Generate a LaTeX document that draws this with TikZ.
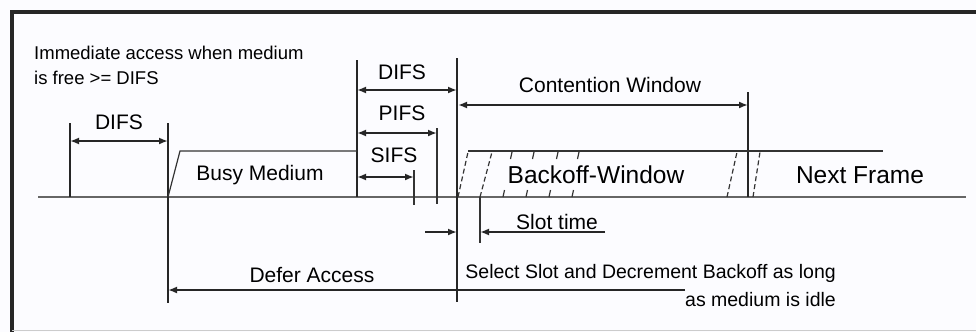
\documentclass[tikz,border=0pt]{standalone}
\usepackage{fontspec}
\setmainfont{Liberation Sans}
\usetikzlibrary{arrows.meta}

\begin{document}
\begin{tikzpicture}[x=1pt, y=-1pt,
        linea/.style={line width=1.8pt, black!85},
        fina/.style={line width=1.2pt, black!80},
        rayas/.style={line width=1.2pt, black!80, dash pattern=on 5pt off 3pt},
        base/.style={line width=2.2pt, black!60},
        flecha/.style={linea, {Latex[length=9pt,width=7pt]}-{Latex[length=9pt,width=7pt]}},
        punta/.style={linea, -{Latex[length=9pt,width=7pt]}},
        etiq/.style={inner sep=0pt, font=\fontsize{21}{25}\selectfont},
        grande/.style={inner sep=0pt, font=\fontsize{24.5}{28}\selectfont}]

        \useasboundingbox (0,0) rectangle (976,332);
        \fill[blue!1] (0,0) rectangle (976,332);

        % marco
        \draw[line width=3.5pt, black!85] (976,12) -- (12,12) -- (12,332);
        \draw[line width=1pt, black!20] (12,330) -- (976,330);

        % eje del medio
        \coordinate (ejeA) at (38,197);
        \coordinate (ejeB) at (966,197);
        \draw[base] (ejeA) -- (ejeB);

        % lineas verticales
        \draw[linea] (70,123) -- (70,197);
        \draw[linea] (168,123) -- (168,303);
        \draw[linea] (357,60) -- (357,197);
        \draw[fina] (414,170) -- (414,205);
        \draw[fina] (437,128) -- (437,204);
        \draw[linea] (457,58) -- (457,302);
        \draw[fina] (480,197) -- (480,243);
        \draw[linea] (748,92) -- (748,197);

        % tramas
        \draw[fina] (168,197) -- (180,151) -- (357,151);
        \draw[fina] (468,151) -- (883,151);
        \draw[rayas] (458,197) -- (468,152);
        \draw[rayas] (480,197) -- (492,152);
        \foreach \x in {512,534,558,579} \draw[fina] (\x,152) -- (\x-1.5,159);
        \foreach \x in {503,526,549,572} \draw[fina] (\x,197) -- (\x+1.5,190);
        \draw[rayas] (727,197) -- (737,152);
        \draw[rayas] (753,197) -- (760,152);

        % flechas
        \coordinate (difsA) at (70,141);
        \coordinate (difsB) at (168,141);
        \draw[flecha] (difsA) -- (difsB);
        \coordinate (difsC) at (357,90);
        \coordinate (difsD) at (457,90);
        \draw[flecha] (difsC) -- (difsD);
        \coordinate (pifsA) at (357,133);
        \coordinate (pifsB) at (437,133);
        \draw[flecha] (pifsA) -- (pifsB);
        \coordinate (sifsA) at (357,177);
        \coordinate (sifsB) at (414,177);
        \draw[flecha] (sifsA) -- (sifsB);
        \coordinate (cwA) at (458,105);
        \coordinate (cwB) at (748,105);
        \draw[flecha] (cwA) -- (cwB);
        \coordinate (slotA) at (425,232);
        \coordinate (slotB) at (457,232);
        \coordinate (slotC) at (605,232);
        \coordinate (slotD) at (480,232);
        \draw[punta] (slotA) -- (slotB);
        \draw[punta] (slotC) -- (slotD);
        \coordinate (defA) at (685,290);
        \coordinate (defB) at (168,290);
        \draw[punta] (defA) -- (defB);

        % textos
        \node[inner sep=0pt, anchor=west, align=left, font=\fontsize{18.5}{25}\selectfont] (inmed) at (34,65) {Immediate access when medium\\is free >= DIFS};
        \node[etiq] (difs1) at (119,122) {DIFS};
        \node[etiq] (difs2) at (402,72) {DIFS};
        \node[etiq] (pifs) at (402,113) {PIFS};
        \node[etiq] (sifs) at (394,155) {SIFS};
        \node[etiq] (cw) at (610,85) {Contention Window};
        \node[etiq] (busy) at (260,175) {Busy Medium};
        \node[grande] (backoff) at (596,175) {Backoff-Window};
        \node[grande] (next) at (860,175) {Next Frame};
        \node[etiq] (slot) at (557,222) {Slot time};
        \node[etiq] (defer) at (312,275) {Defer Access};
        \node[inner sep=0pt, anchor=east, align=right, font=\fontsize{19.5}{28}\selectfont] (select) at (836,286) {Select Slot and Decrement Backoff as long\\as medium is idle};
    \end{tikzpicture}
\end{document}
